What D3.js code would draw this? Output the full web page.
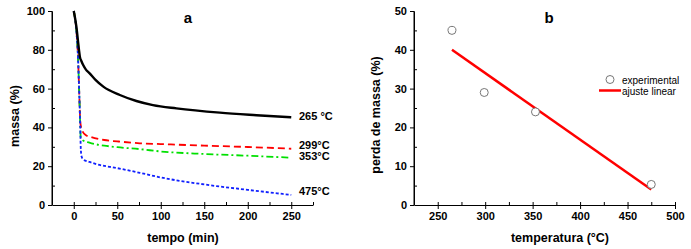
<!DOCTYPE html>
<html>
<head>
<meta charset="utf-8">
<script src="https://cdn.jsdelivr.net/npm/d3@7"></script>
<style>
  body { margin: 0; background: #fff; }
  text { font-family: "Liberation Sans", Arial, sans-serif; }
  .tick text { font-size: 11px; font-weight: bold; fill: #000; }
  .domain, .tick line { stroke: #000; stroke-width: 1; }
  .title { font-size: 12.5px; font-weight: bold; }
  .panel { font-size: 15px; font-weight: bold; }
  .clabel { font-size: 11px; font-weight: bold; }
  .legend { font-size: 10px; }
</style>
</head>
<body>
<div id="chart"></div>
<script>
// panel a: mass vs time
let t265 = [0, 3, 5, 6, 7, 9, 11, 14, 18, 25, 34, 53, 72, 91, 118, 168, 210, 250];
let m265 = [100, 92, 84, 80, 76.5, 74, 72, 69.8, 68, 64.5, 61, 56.7, 53.6, 51.5, 49.8, 47.6, 46.3, 45.2];

let t299 = [0, 3, 5, 6, 7, 7.5, 8.5, 10, 14, 20, 35, 50, 76, 100, 150, 200, 250];
let m299 = [100, 90, 75, 62, 48, 43, 40, 38, 36, 35, 33.5, 32.8, 31.8, 31.4, 30.6, 29.9, 29];

let t353 = [0, 3, 5, 6, 7, 7.5, 8, 10, 18, 35, 50, 76, 100, 150, 200, 250];
let m353 = [100, 90, 75, 62, 48, 40, 35, 33.5, 32.1, 30.6, 29.8, 28.8, 27.6, 26.3, 25.4, 24.4];

let t475 = [0, 3, 5, 6, 7, 7.5, 8, 9, 11, 18, 25, 50, 76, 100, 150, 200, 250];
let m475 = [100, 90, 75, 62, 48, 40, 30, 25, 23.5, 22.2, 21.2, 19, 16.6, 14.2, 10.6, 7.8, 5.2];

let curveLabels = ["265 °C", "299°C", "353°C", "475°C"];

// panel b: mass loss vs temperature
let tempExp = [265, 299, 353, 475];
let lossExp = [45, 29, 24, 5.3];
let tempFit = [265, 475];
let lossFit = [40, 4];

let width = 691, height = 249;

let svg = d3.select("#chart")
    .append("svg")
    .attr("width", width)
    .attr("height", height);

// ---------- panel a ----------
let xA = d3.scaleLinear().domain([-25, 275]).range([52, 313]);
let yA = d3.scaleLinear().domain([0, 100]).range([205, 11]);

svg.append("g")
    .attr("transform", "translate(0," + yA(0) + ")")
    .call(d3.axisBottom(xA).tickValues(d3.range(-25, 276, 25)).tickSize(0).tickFormat(""))
    .call(g => g.selectAll(".tick line").attr("y2", -3));
svg.append("g")
    .attr("transform", "translate(0," + yA(0) + ")")
    .call(d3.axisBottom(xA).tickValues([0, 50, 100, 150, 200, 250]).tickSizeInner(4).tickSizeOuter(0).tickPadding(3))
    .call(g => g.select(".domain").remove());

svg.append("g")
    .attr("transform", "translate(" + xA(-25) + ",0)")
    .call(d3.axisLeft(yA).tickValues(d3.range(10, 100, 20)).tickSize(0).tickFormat(""))
    .call(g => g.selectAll(".tick line").attr("x2", 3));
svg.append("g")
    .attr("transform", "translate(" + xA(-25) + ",0)")
    .call(d3.axisLeft(yA).tickValues([0, 20, 40, 60, 80, 100]).tickSizeInner(4).tickSizeOuter(0).tickPadding(3))
    .call(g => g.select(".domain").remove());

svg.append("line")
    .attr("x1", xA(-25)).attr("x2", xA(-25))
    .attr("y1", yA(0)).attr("y2", yA(100))
    .attr("stroke", "#000");

let series = [
    {t: t265, m: m265, color: "#000000", w: 2.4, dash: null},
    {t: t299, m: m299, color: "#ff0000", w: 1.8, dash: "7,4"},
    {t: t353, m: m353, color: "#00e000", w: 1.8, dash: "7,3,2,3"},
    {t: t475, m: m475, color: "#1020ff", w: 1.8, dash: "3,2"}
];

let lineA = d3.line()
    .x(d => xA(d[0]))
    .y(d => yA(d[1]))
    .curve(d3.curveMonotoneX);

// draw colored first so black sits on top of the shared drop
series.slice(1).concat(series.slice(0, 1)).forEach(s => {
    svg.append("path")
        .datum(s.t.map((t, i) => [t, s.m[i]]))
        .attr("d", lineA)
        .attr("fill", "none")
        .attr("stroke", s.color)
        .attr("stroke-width", s.w)
        .attr("stroke-dasharray", s.dash);
});

let labelY = [115.7, 145, 155.7, 191.3];
curveLabels.forEach((l, i) => {
    svg.append("text")
        .attr("class", "clabel")
        .attr("x", 299)
        .attr("y", labelY[i])
        .attr("dy", "0.35em")
        .text(l);
});

svg.append("text")
    .attr("class", "panel")
    .attr("x", 188)
    .attr("y", 23)
    .attr("text-anchor", "middle")
    .text("a");

svg.append("text")
    .attr("class", "title")
    .attr("x", 183)
    .attr("y", 242)
    .attr("text-anchor", "middle")
    .text("tempo (min)");

svg.append("text")
    .attr("class", "title")
    .attr("transform", "translate(19," + 116 + ") rotate(-90)")
    .attr("text-anchor", "middle")
    .text("massa (%)");

// ---------- panel b ----------
let xB = d3.scaleLinear().domain([225, 500]).range([414, 675]);
let yB = d3.scaleLinear().domain([0, 50]).range([205, 11]);

svg.append("g")
    .attr("transform", "translate(0," + yB(0) + ")")
    .call(d3.axisBottom(xB).tickValues(d3.range(225, 501, 25)).tickSize(0).tickFormat(""))
    .call(g => g.selectAll(".tick line").attr("y2", -3));
svg.append("g")
    .attr("transform", "translate(0," + yB(0) + ")")
    .call(d3.axisBottom(xB).tickValues([250, 300, 350, 400, 450, 500]).tickSizeInner(4).tickSizeOuter(0).tickPadding(3))
    .call(g => g.select(".domain").remove());

svg.append("g")
    .attr("transform", "translate(" + xB(225) + ",0)")
    .call(d3.axisLeft(yB).tickValues(d3.range(5, 50, 10)).tickSize(0).tickFormat(""))
    .call(g => g.selectAll(".tick line").attr("x2", 3));
svg.append("g")
    .attr("transform", "translate(" + xB(225) + ",0)")
    .call(d3.axisLeft(yB).tickValues([0, 10, 20, 30, 40, 50]).tickSizeInner(4).tickSizeOuter(0).tickPadding(3))
    .call(g => g.select(".domain").remove());

svg.append("line")
    .attr("x1", xB(225)).attr("x2", xB(225))
    .attr("y1", yB(0)).attr("y2", yB(50))
    .attr("stroke", "#000");

svg.append("path")
    .datum(tempFit.map((t, i) => [t, lossFit[i]]))
    .attr("d", d3.line().x(d => xB(d[0])).y(d => yB(d[1])))
    .attr("fill", "none")
    .attr("stroke", "#ff0000")
    .attr("stroke-width", 2.5);

svg.selectAll(".pt")
    .data(tempExp.map((t, i) => [t, lossExp[i]]))
    .enter()
    .append("circle")
    .attr("class", "pt")
    .attr("cx", d => xB(d[0]))
    .attr("cy", d => yB(d[1]))
    .attr("r", 4)
    .attr("fill", "#fff")
    .attr("stroke", "#777")
    .attr("stroke-width", 1);

// legend
svg.append("circle")
    .attr("cx", 610).attr("cy", 79.5).attr("r", 4)
    .attr("fill", "#fff").attr("stroke", "#777");
svg.append("text")
    .attr("class", "legend")
    .attr("x", 622).attr("y", 80).attr("dy", "0.35em")
    .text("experimental");
svg.append("line")
    .attr("x1", 599).attr("x2", 621)
    .attr("y1", 90.5).attr("y2", 90.5)
    .attr("stroke", "#ff0000").attr("stroke-width", 2.5);
svg.append("text")
    .attr("class", "legend")
    .attr("x", 622).attr("y", 91).attr("dy", "0.35em")
    .text("ajuste linear");

svg.append("text")
    .attr("class", "panel")
    .attr("x", 549)
    .attr("y", 23)
    .attr("text-anchor", "middle")
    .text("b");

svg.append("text")
    .attr("class", "title")
    .attr("x", 560)
    .attr("y", 242)
    .attr("text-anchor", "middle")
    .text("temperatura (°C)");

svg.append("text")
    .attr("class", "title")
    .attr("transform", "translate(380," + 115 + ") rotate(-90)")
    .attr("text-anchor", "middle")
    .text("perda de massa (%)");
</script>
</body>
</html>
